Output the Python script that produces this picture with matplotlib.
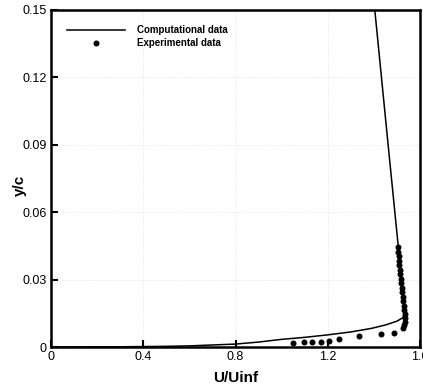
import matplotlib
matplotlib.use('Agg')
import matplotlib.pyplot as plt

# perfil calculado (linea continua)
comp_u = [0.0, 0.3, 0.5, 0.6, 0.7, 0.8, 0.9, 1.0, 1.1, 1.2, 1.3, 1.39, 1.45, 1.5,
          1.525, 1.535, 1.5255, 1.5155, 1.503, 1.464, 1.404]
comp_y = [0.0, 0.0001, 0.0003, 0.0005, 0.0009, 0.0013, 0.0022, 0.0034, 0.0043, 0.0054,
          0.0067, 0.0083, 0.0098, 0.0115, 0.013, 0.0155, 0.025, 0.035, 0.0476, 0.0877, 0.15]

# puntos experimentales
exp_u = [1.051, 1.097, 1.133, 1.170, 1.206, 1.249, 1.336, 1.430, 1.488,
         1.527, 1.531, 1.533, 1.534, 1.533, 1.531, 1.529, 1.527, 1.525, 1.523,
         1.521, 1.519, 1.517, 1.515, 1.513, 1.511, 1.509, 1.507, 1.505, 1.503]
exp_y = [0.0016, 0.0021, 0.0022, 0.0024, 0.0027, 0.0037, 0.0049, 0.0057, 0.0064,
         0.0085, 0.0097, 0.0112, 0.0128, 0.0145, 0.0163, 0.0183, 0.0203, 0.0223, 0.0243,
         0.0263, 0.0283, 0.0303, 0.0323, 0.0343, 0.0363, 0.0383, 0.0403, 0.0423, 0.0443]

xticks = [0, 0.4, 0.8, 1.2, 1.6]
xtick_labels = ['0', '0.4', '0.8', '1.2', '1.6']
yticks = [0, 0.03, 0.06, 0.09, 0.12, 0.15]
ytick_labels = ['0', '0.03', '0.06', '0.09', '0.12', '0.15']

plt.rcParams['font.family'] = ['Liberation Sans', 'DejaVu Sans']

fig = plt.figure(figsize=(4.23, 3.9), dpi=100)
ax = fig.add_axes([51 / 423, 43 / 390, 369 / 423, 337 / 390])

ax.plot(comp_u, comp_y, color='black', linewidth=1.1, label='Computational data')
ax.plot(exp_u, exp_y, linestyle='none', marker='o', markersize=3.3, color='black',
        label='Experimental data')

ax.set_xlim(0, 1.6)
ax.set_ylim(0, 0.15)
ax.set_xticks(xticks)
ax.set_xticklabels(xtick_labels)
ax.set_yticks(yticks)
ax.set_yticklabels(ytick_labels)
ax.tick_params(direction='in', length=5, width=1.5, labelsize=9, pad=3)
ax.grid(True, color='0.88', linestyle=':', linewidth=0.6)

for s in ax.spines.values():
    s.set_linewidth(1.8)

ax.set_xlabel('U/Uinf', fontsize=11, fontweight='bold', labelpad=6)
ax.set_ylabel('y/c', fontsize=11, fontweight='bold')
ax.yaxis.set_label_coords(-0.066, 0.48)

ax.legend(loc='upper left', bbox_to_anchor=(0.02, 0.98), frameon=False,
          handlelength=6, handletextpad=1.2, labelspacing=0.3,
          prop={'size': 7, 'weight': 'bold'})

fig.savefig('out.png', dpi=100)
plt.close(fig)
